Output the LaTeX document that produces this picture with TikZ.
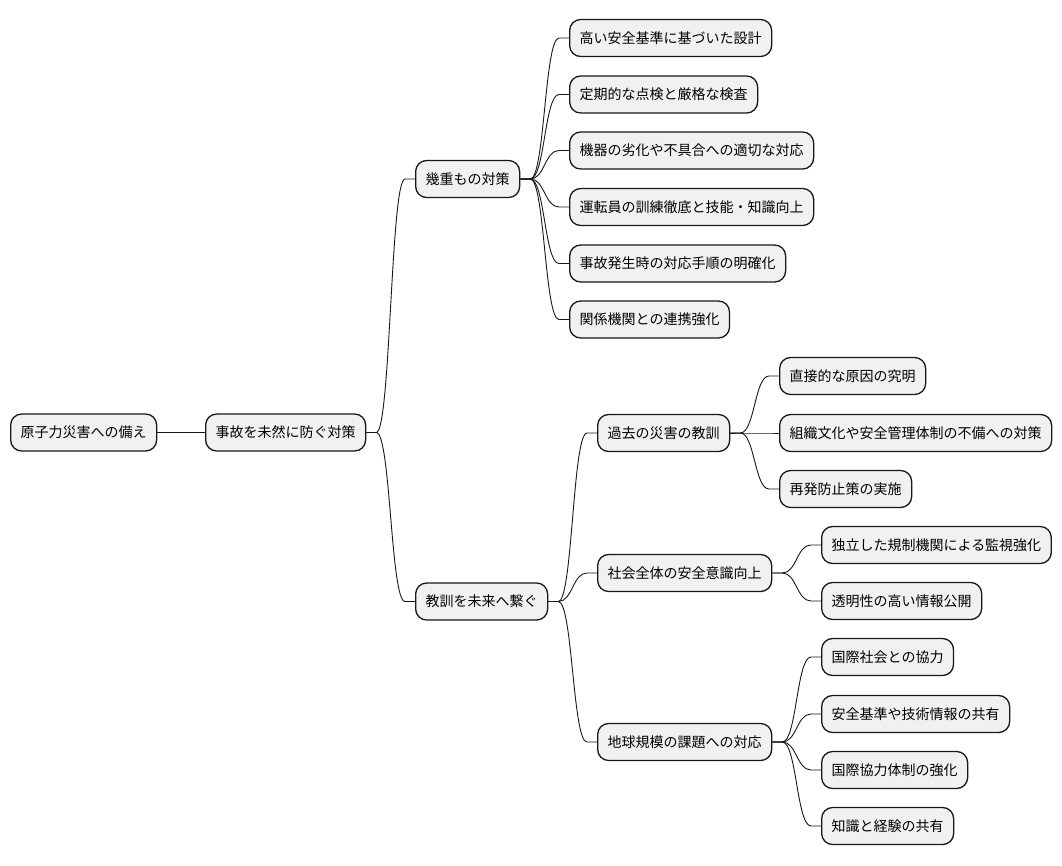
\documentclass[tikz,border=0pt]{standalone}
\usepackage{fontspec}
\setmainfont{Noto Sans CJK JP}
\usetikzlibrary{calc}
\definecolor{boxfill}{HTML}{F1F1F1}
\definecolor{boxline}{HTML}{181818}
\tikzset{
  mbox/.style={draw=boxline, fill=boxfill, line width=1.3pt, rounded corners=11pt,
    minimum height=37pt, inner xsep=10pt, inner ysep=0pt, anchor=west,
    font=\fontsize{14pt}{16pt}\selectfont, text height=11.5pt, text depth=1.5pt},
  branch/.style={draw=boxline, line width=0.9pt,
    to path={let \p1=(\tikztostart), \p2=(\tikztotarget), \n1={(\x1+\x2)/2} in
      -- (\x1+10pt,\y1) .. controls (\n1,\y1) and (\n1,\y2) .. (\x2-10pt,\y2) -- (\x2,\y2)}}
}
\begin{document}
\begin{tikzpicture}[x=1pt,y=-1pt]
\useasboundingbox[fill=white] (0,0) rectangle (1062,865);
% nodes
\node[mbox] (root) at (10,432.5) {原子力災害への備え};
\node[mbox] (a) at (205,432.5) {事故を未然に防ぐ対策};
\node[mbox] (b1) at (415,179) {幾重もの対策};
\node[mbox] (b2) at (415,601.5) {教訓を未来へ繋ぐ};
\node[mbox] (c1) at (569,38) {高い安全基準に基づいた設計};
\node[mbox] (c2) at (569,94.5) {定期的な点検と厳格な検査};
\node[mbox] (c3) at (569,150.5) {機器の劣化や不具合への適切な対応};
\node[mbox] (c4) at (569,207) {運転員の訓練徹底と技能・知識向上};
\node[mbox] (c5) at (569,263.5) {事故発生時の対応手順の明確化};
\node[mbox] (c6) at (569,319.5) {関係機関との連携強化};
\node[mbox] (d1) at (597,433) {過去の災害の教訓};
\node[mbox] (d2) at (597,573) {社会全体の安全意識向上};
\node[mbox] (d3) at (597,742) {地球規模の課題への対応};
\node[mbox] (e1) at (779,376) {直接的な原因の究明};
\node[mbox] (e2) at (779,433) {組織文化や安全管理体制の不備への対策};
\node[mbox] (e3) at (779,489) {再発防止策の実施};
\node[mbox] (f1) at (821,545) {独立した規制機関による監視強化};
\node[mbox] (f2) at (821,601) {透明性の高い情報公開};
\node[mbox] (g1) at (821,657) {国際社会との協力};
\node[mbox] (g2) at (821,714) {安全基準や技術情報の共有};
\node[mbox] (g3) at (821,770) {国際協力体制の強化};
\node[mbox] (g4) at (821,826) {知識と経験の共有};
% connectors
\draw[boxline, line width=0.9pt] (root.east) -- (a.west);
\foreach \p/\c in {a/b1, a/b2, b1/c1, b1/c2, b1/c3, b1/c4, b1/c5, b1/c6,
  b2/d1, b2/d2, b2/d3, d1/e1, d1/e2, d1/e3, d2/f1, d2/f2,
  d3/g1, d3/g2, d3/g3, d3/g4}
  \draw[branch] (\p.east) to (\c.west);
\end{tikzpicture}
\end{document}
